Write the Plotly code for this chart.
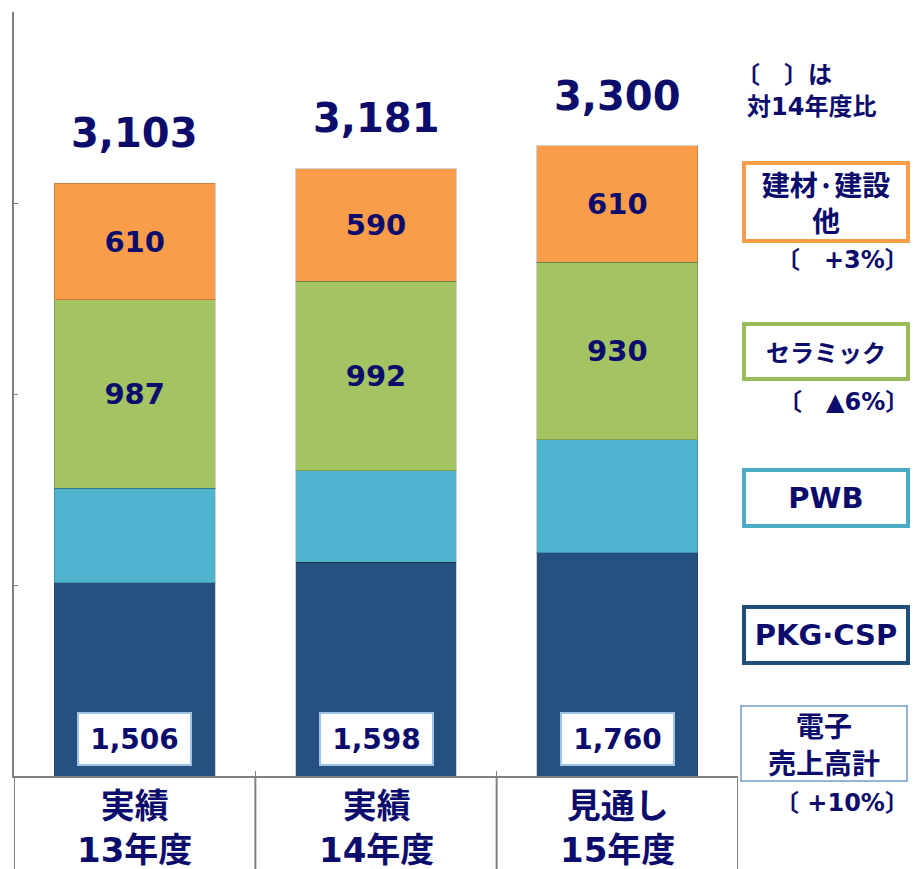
import plotly.graph_objects as go

# ---- data ----
categories = ["13年度", "14年度", "15年度"]
category_labels = ["実績<br>13年度", "実績<br>14年度", "見通し<br>15年度"]
pkg_csp = [1013, 1120, 1170]
pwb = [493, 478, 590]
ceramic = [987, 992, 930]
kenzai = [610, 590, 610]
electronic_total = [1506, 1598, 1760]
grand_total = [3103, 3181, 3300]

legend_items = ["建材·建設<br>他", "セラミック", "PWB", "PKG·CSP", "電子<br>売上高計"]
legend_changes = ["〔　+3%〕", "〔　▲6%〕", "〔 +10%〕"]
note_lines = ["〔　〕は", "対14年度比"]

# ---- style ----
NAVY = "#0C0C6C"
C_PKG = "#25507F"
C_PWB = "#4FB5CF"
C_CER = "#A4C463"
C_KEN = "#F99D4B"
NUMFONT = "DejaVu Sans"
JPFONT = "Noto Sans CJK JP"
MIXFONT = "DejaVu Sans, Noto Sans CJK JP"

OFF = 8  # default page body margin
W, H = 919 - OFF, 869 - OFF
L = 14 - OFF
T = 12 - OFF
R = W - (738 - OFF)
B = H - (776 - OFF)
PW = W - L - R
PH = H - T - B


def px(x):
    return (x - OFF - L) / PW


def py(y):
    return (H - B - (y - OFF)) / PH


fig = go.Figure()

edge = dict(color="rgba(0,0,0,0.18)", width=1)
fig.add_bar(x=categories, y=pkg_csp, marker=dict(color=C_PKG, line=edge), hoverinfo="skip")
fig.add_bar(x=categories, y=pwb, marker=dict(color=C_PWB, line=edge), hoverinfo="skip")
fig.add_bar(x=categories, y=ceramic, text=[f"{v:,}" for v in ceramic], textposition="inside",
            insidetextanchor="middle",
            textfont=dict(family=NUMFONT, size=29, color=NAVY, weight="bold"),
            marker=dict(color=C_CER, line=edge), hoverinfo="skip")
fig.add_bar(x=categories, y=kenzai, text=[f"{v:,}" for v in kenzai], textposition="inside",
            insidetextanchor="middle",
            textfont=dict(family=NUMFONT, size=29, color=NAVY, weight="bold"),
            marker=dict(color=C_KEN, line=edge), hoverinfo="skip")

annotations = []
# totals above bars
for c, t in zip(categories, grand_total):
    annotations.append(dict(x=c, y=t, xref="x", yref="y", text=f"{t:,}", showarrow=False,
                            yanchor="middle", yshift=50,
                            font=dict(family=NUMFONT, size=40, color=NAVY, weight="bold")))
# electronic totals in white boxes
for c, t in zip(categories, electronic_total):
    annotations.append(dict(x=c, y=0, xref="x", yref="y", text=f"{t:,}", showarrow=False,
                            yanchor="middle", yshift=37, width=111, height=50, borderpad=0,
                            bgcolor="white", bordercolor="#9DC3E6", borderwidth=2,
                            font=dict(family=NUMFONT, size=28, color=NAVY, weight="bold")))
# category labels
for c, lab in zip(categories, category_labels):
    annotations.append(dict(x=c, y=py(828), xref="x", yref="paper", text=lab, showarrow=False,
                            yanchor="middle",
                            font=dict(family=MIXFONT, size=34, color=NAVY, weight="bold")))

# note
annotations.append(dict(x=px(734), y=py(75), xref="paper", yref="paper", text=note_lines[0], showarrow=False,
                        xanchor="left", yanchor="middle",
                        font=dict(family=MIXFONT, size=24, color=NAVY, weight="bold")))
annotations.append(dict(x=px(745), y=py(107), xref="paper", yref="paper", text=note_lines[1], showarrow=False,
                        xanchor="left", yanchor="middle",
                        font=dict(family=MIXFONT, size=24, color=NAVY, weight="bold")))

# legend boxes
boxes = [
    (legend_items[0], 826, 202, 168, 82, C_KEN, 4, JPFONT, 28),
    (legend_items[1], 826, 351.5, 168, 59, "#9BBB59", 4, JPFONT, 24),
    (legend_items[2], 826, 498, 168, 60, "#4BACC6", 4, NUMFONT, 29),
    (legend_items[3], 826, 635, 168, 60, "#1F4E79", 4, NUMFONT, 29),
    (legend_items[4], 824, 743.5, 168, 77, "#95B3D7", 2, JPFONT, 28),
]
for text, cx, cy, bw, bh, col, lw, fam, fs in boxes:
    annotations.append(dict(x=px(cx), y=py(cy), xref="paper", yref="paper", text=text, showarrow=False,
                            xanchor="center", yanchor="middle", width=bw - 2 * lw, height=bh - 2 * lw,
                            borderpad=0, bgcolor="white", bordercolor=col, borderwidth=lw,
                            font=dict(family=fam, size=fs, color=NAVY, weight="bold")))

for text, cy in zip(legend_changes, [260, 402, 803]):
    annotations.append(dict(x=px(911), y=py(cy), xref="paper", yref="paper", text=text, showarrow=False,
                            xanchor="right", yanchor="middle",
                            font=dict(family=MIXFONT, size=24, color=NAVY, weight="bold")))

shapes = []
GRAY = "#808080"
# table lines below the axis
for xb in [-0.5, 0.5, 1.5, 2.5]:
    shapes.append(dict(type="line", xref="x", yref="paper", x0=xb, x1=xb, y0=0, y1=-0.2,
                       line=dict(color=GRAY, width=2)))

fig.update_layout(
    width=W, height=H,
    margin=dict(l=L, r=R, t=T, b=B, pad=0, autoexpand=False),
    barmode="stack", bargap=0.333,
    showlegend=False,
    plot_bgcolor="white", paper_bgcolor="white",
    annotations=annotations,
    shapes=shapes,
    xaxis=dict(type="category", showticklabels=False, showline=True, linecolor=GRAY, linewidth=2,
               ticks="inside", tickson="boundaries", ticklen=5, tickcolor=GRAY, showgrid=False,
               zeroline=False, range=[-0.5, 2.5]),
    yaxis=dict(range=[0, 4000], dtick=1000, showticklabels=False, showline=True, linecolor=GRAY,
               linewidth=2, ticks="inside", ticklen=4, tickcolor=GRAY, showgrid=False, zeroline=False),
)

fig.write_html("out.html")
